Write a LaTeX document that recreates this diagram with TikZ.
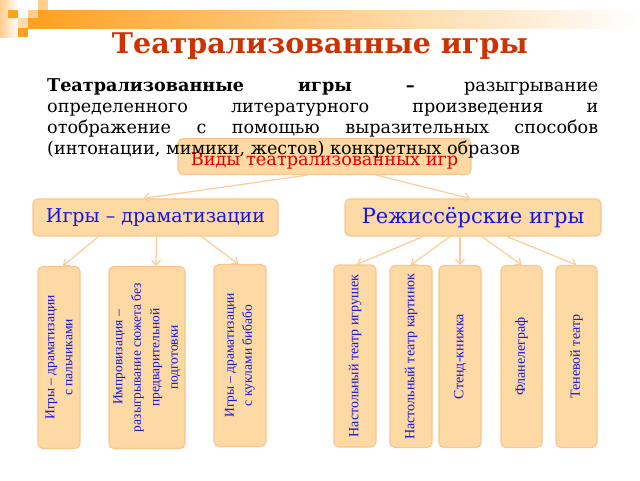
\documentclass[tikz,border=0pt]{standalone}
\usepackage{fontspec}
\setmainfont{DejaVu Serif}
\newfontfamily\timesfont{Liberation Serif}
\usetikzlibrary{arrows.meta}
\definecolor{titlered}{RGB}{204,51,0}
\definecolor{boxfill}{RGB}{253,217,163}
\definecolor{boxline}{RGB}{250,197,144}
\definecolor{linkcol}{RGB}{251,203,152}
\definecolor{txtblue}{RGB}{20,20,230}
\definecolor{txtred}{RGB}{225,0,0}
\definecolor{deco}{RGB}{255,160,30}
\definecolor{decolight}{RGB}{255,205,140}
\tikzset{
  box/.style={draw=boxline,fill=boxfill,line width=1.2pt,rounded corners=5pt,inner sep=0pt},
  kindbox/.style={box,minimum height=37pt,text=txtblue},
  vbox/.style={box,rotate=90,minimum width=182pt,align=center,text=txtblue,
    font=\timesfont\fontsize{14}{18}\selectfont},
  link/.style={draw=linkcol,line width=1.2pt,-{Straight Barb[length=5pt,width=9pt]}}
}
\begin{document}
\begin{tikzpicture}[x=1pt,y=-1pt]
    \useasboundingbox (0,0) rectangle (640,480);
    %% Decoration
    \shade[left color=decolight,right color=white] (0,0) rectangle (18,37);
    \shade[left color=deco,middle color=deco!55,right color=white] (28,10) rectangle (640,28);
    \fill[deco] (8,10) rectangle (18,18);
    \fill[decolight] (38,0) rectangle (48,10);
    \fill[decolight] (28,10) rectangle (38,18);
    \fill[decolight!70] (18,18) rectangle (28,28);
    \fill[deco] (18,28) rectangle (28,37);
    %% Title
    \node[text=titlered,font=\fontsize{28.5}{30}\selectfont\bfseries] (title) at (320,46) {Театрализованные игры};
    %% Kinds
    \node[box,minimum width=293pt,text height=27pt,text depth=9pt,text=txtred,font=\fontsize{17.7}{20}\selectfont] (vidy) at (324.5,156.5) {Виды театрализованных игр};
    \node[kindbox,minimum width=245pt,font=\fontsize{19}{22}\selectfont] (drama) at (155.5,217.5) {Игры – драматизации};
    \node[kindbox,minimum width=256pt,font=\fontsize{21}{24}\selectfont] (rezh) at (473,217.5) {Режиссёрские игры};
    %% Definition
    \node[anchor=north west,inner sep=0pt,text width=551pt,align=justify,
      font=\fontsize{17.6}{21.3}\selectfont] (defn) at (47,78)
      {\hyphenpenalty=10000\textbf{Театрализованные игры –} разыгрывание\linebreak
       определенного литературного произведения и\linebreak
       отображение с помощью выразительных способов\linebreak
       (интонации, мимики, жестов) конкретных образов};
    %% Games
    \node[vbox,minimum height=42pt,font=\timesfont\fontsize{13.5}{18}\selectfont] (palc) at (59,357.5) {Игры – драматизации\\с пальчиками};
    \node[vbox,minimum height=76pt,font=\timesfont\fontsize{13.5}{18.5}\selectfont] (impr) at (147,357.5) {Импровизация –\\разыгрывание сюжета без\\предварительной\\подготовки};
    \node[vbox,minimum height=52pt,font=\timesfont\fontsize{13.5}{18}\selectfont] (bibabo) at (240,355.5) {Игры – драматизации\\с куклами бибабо};
    \node[vbox,minimum height=42pt] (igrush) at (355,356) {Настольный театр игрушек};
    \node[vbox,minimum height=42pt] (kartin) at (411,356.5) {Настольный театр картинок};
    \node[vbox,minimum height=42pt] (stend) at (460,356.5) {Стенд-книжка};
    \node[vbox,minimum height=41pt] (flanel) at (521.5,356.5) {Фланелеграф};
    \node[vbox,minimum height=41pt] (ten) at (576.5,356.5) {Теневой театр};
    %% Links
    \draw[link] ([xshift=-17pt]vidy.south) -- ([xshift=-12pt]drama.north);
    \draw[link] ([xshift=52pt]vidy.south) -- ([xshift=-3pt]rezh.north);
    \draw[link] ([xshift=-57pt]drama.south) -- ([xshift=4pt]palc.east);
    \draw[link] ([xshift=1pt]drama.south) -- ([xshift=9pt]impr.east);
    \draw[link] ([xshift=46pt]drama.south) -- ([xshift=-2pt]bibabo.east);
    \draw[link] ([xshift=-50pt]rezh.south) -- ([xshift=2pt]igrush.east);
    \draw[link] ([xshift=-23pt]rezh.south) -- (kartin.east);
    \draw[link] ([xshift=-13pt]rezh.south) -- (stend.east);
    \draw[link] ([xshift=9pt]rezh.south) -- (flanel.east);
    \draw[link] ([xshift=34pt]rezh.south) -- (ten.east);
\end{tikzpicture}
\end{document}
